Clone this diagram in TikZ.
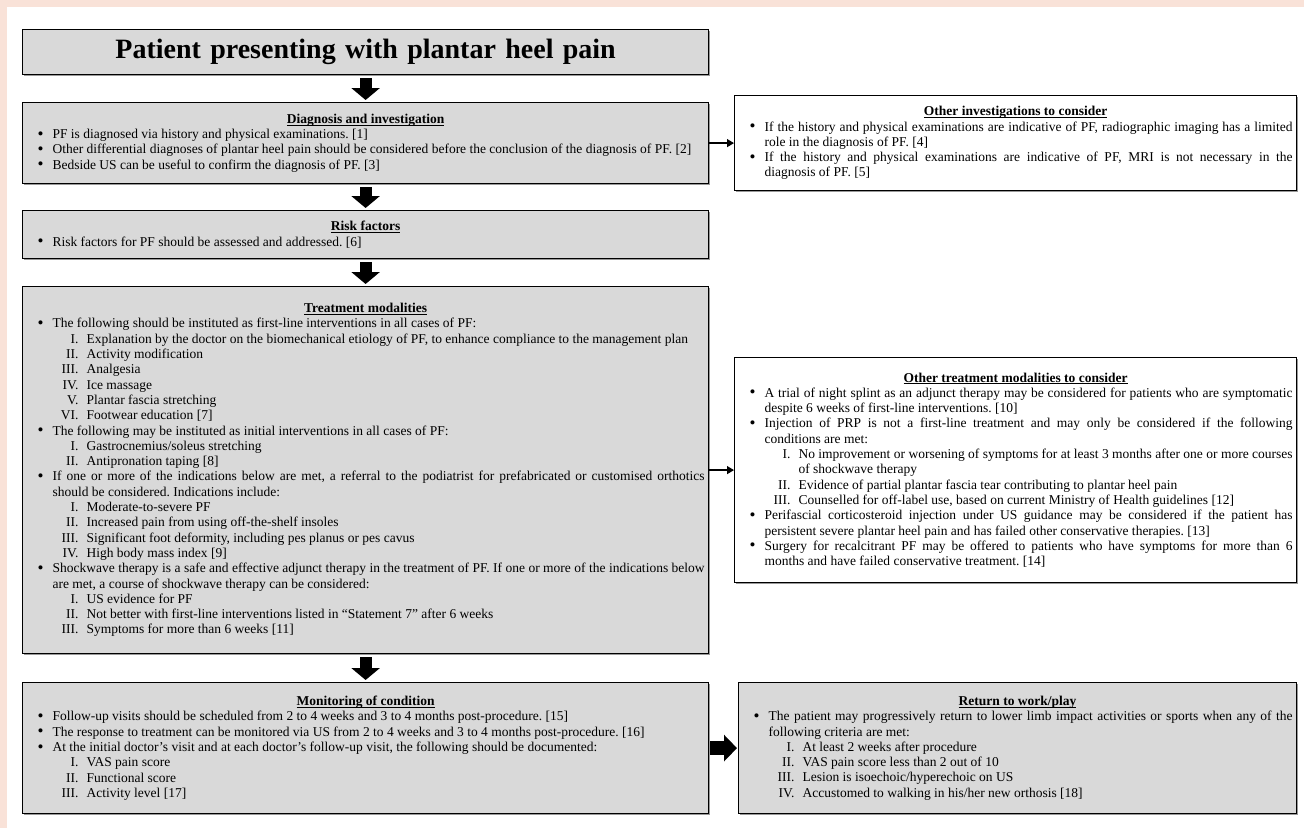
\documentclass[tikz,border=0pt]{standalone}
\usepackage{fontspec}
\setmainfont{Liberation Serif}
\usetikzlibrary{arrows.meta,shadows}

\definecolor{pinkbg}{RGB}{249,226,216}
\definecolor{boxgray}{RGB}{217,217,217}

\tolerance=10000
\hyphenpenalty=10000

% header, bullet and roman item inside the boxes
\newcommand{\boxhead}[1]{\setbox0=\hbox{\bfseries #1}\centerline{\rlap{\rule[-2pt]{\wd0}{0.7pt}}\box0}}
\newcommand{\bul}{\par\hangindent=26pt\hangafter=1\noindent\makebox[26pt][l]{\hspace{11pt}\raisebox{-0.6pt}{\fontsize{17}{15}\selectfont\textbullet}}}
\newcommand{\rom}[1]{\par\hangindent=60pt\hangafter=1\noindent\makebox[52pt][r]{#1.}\hspace{8pt}\ignorespaces}

\begin{document}
\begin{tikzpicture}[x=1pt, y=-1pt,
	box/.style={draw=black, line width=1.2pt, fill=boxgray, anchor=north west,
		inner xsep=4pt, inner ysep=0pt, align=justify,
		font=\fontsize{13.5}{15.3}\selectfont\frenchspacing,
		drop shadow={shadow xshift=1.6pt, shadow yshift=-1.6pt, fill=gray!80, opacity=1}},
	sidebox/.style={box, fill=white},
	downarrow/.style={line width=12pt, -{Triangle[length=12pt,width=28pt]}, shorten <=3pt, shorten >=2pt},
	rightarrow/.style={line width=14pt, -{Triangle[length=13pt,width=26pt]}, shorten <=1pt, shorten >=1pt},
	thinarrow/.style={line width=1.3pt, -{Triangle[length=7pt,width=8pt]}}]

	% page
	\useasboundingbox (0,0) rectangle (1304,828);
	\fill[pinkbg] (0,0) rectangle (1304,828);
	\fill[white] (7,7) rectangle (1304,828);

	% main column
	\node[box, minimum width=686pt, minimum height=45pt, text width=678pt, align=center,
		font=\fontsize{28}{30}\selectfont\bfseries] (title) at (22,29)
		{Patient presenting with plantar heel pain};

	\node[box, minimum width=686pt, minimum height=81pt, text width=678pt] (diag) at (22,102) {%
		\boxhead{Diagnosis and investigation}
		\bul PF is diagnosed via history and physical examinations. [1]
		\bul Other differential diagnoses of plantar heel pain should be considered before the conclusion of the diagnosis of PF. [2]
		\bul Bedside US can be useful to confirm the diagnosis of PF. [3]\par};

	\node[box, minimum width=686pt, minimum height=48pt, text width=678pt] (risk) at (22,210) {%
		\boxhead{Risk factors}
		\bul Risk factors for PF should be assessed and addressed. [6]\par};

	\node[box, minimum width=686pt, minimum height=367pt, text width=678pt] (treat) at (22,286) {%
		\boxhead{Treatment modalities}
		\bul The following should be instituted as first-line interventions in all cases of PF:
		\rom{I} Explanation by the doctor on the biomechanical etiology of PF, to enhance compliance to the management plan
		\rom{II} Activity modification
		\rom{III} Analgesia
		\rom{IV} Ice massage
		\rom{V} Plantar fascia stretching
		\rom{VI} Footwear education [7]
		\bul The following may be instituted as initial interventions in all cases of PF:
		\rom{I} Gastrocnemius/soleus stretching
		\rom{II} Antipronation taping [8]
		\bul If one or more of the indications below are met, a referral to the podiatrist for prefabricated or customised orthotics \linebreak should be considered. Indications include:
		\rom{I} Moderate-to-severe PF
		\rom{II} Increased pain from using off-the-shelf insoles
		\rom{III} Significant foot deformity, including pes planus or pes cavus
		\rom{IV} High body mass index [9]
		\bul Shockwave therapy is a safe and effective adjunct therapy in the treatment of PF. If one or more of the indications below \linebreak are met, a course of shockwave therapy can be considered:
		\rom{I} US evidence for PF
		\rom{II} Not better with first-line interventions listed in “Statement 7” after 6 weeks
		\rom{III} Symptoms for more than 6 weeks [11]\par};

	\node[box, minimum width=686pt, minimum height=131pt, text width=678pt] (mon) at (22,682) {%
		\boxhead{Monitoring of condition}
		\bul Follow-up visits should be scheduled from 2 to 4 weeks and 3 to 4 months post-procedure. [15]
		\bul The response to treatment can be monitored via US from 2 to 4 weeks and 3 to 4 months post-procedure. [16]
		\bul At the initial doctor’s visit and at each doctor’s follow-up visit, the following should be documented:
		\rom{I} VAS pain score
		\rom{II} Functional score
		\rom{III} Activity level [17]\par};

	% side column
	\node[sidebox, minimum width=562pt, minimum height=95pt, text width=554pt] (inv) at (734,95) {%
		\boxhead{Other investigations to consider}
		\bul If the history and physical examinations are indicative of PF, radiographic imaging has a limited \linebreak role in the diagnosis of PF. [4]
		\bul If the history and physical examinations are indicative of PF, MRI is not necessary in the \linebreak diagnosis of PF. [5]\par};

	\node[sidebox, minimum width=562pt, minimum height=225pt, text width=554pt] (other) at (734,357) {%
		\boxhead{Other treatment modalities to consider}
		\bul A trial of night splint as an adjunct therapy may be considered for patients who are symptomatic \linebreak despite 6 weeks of first-line interventions. [10]
		\bul Injection of PRP is not a first-line treatment and may only be considered if the following \linebreak conditions are met:
		\rom{I} No improvement or worsening of symptoms for at least 3 months after one or more courses \linebreak of shockwave therapy
		\rom{II} Evidence of partial plantar fascia tear contributing to plantar heel pain
		\rom{III} Counselled for off-label use, based on current Ministry of Health guidelines [12]
		\bul Perifascial corticosteroid injection under US guidance may be considered if the patient has \linebreak persistent severe plantar heel pain and has failed other conservative therapies. [13]
		\bul Surgery for recalcitrant PF may be offered to patients who have symptoms for more than 6 \linebreak months and have failed conservative treatment. [14]\par};

	\node[box, minimum width=558pt, minimum height=131pt, text width=550pt] (ret) at (738,682) {%
		\boxhead{Return to work/play}
		\bul The patient may progressively return to lower limb impact activities or sports when any of the \linebreak following criteria are met:
		\rom{I} At least 2 weeks after procedure
		\rom{II} VAS pain score less than 2 out of 10
		\rom{III} Lesion is isoechoic/hyperechoic on US
		\rom{IV} Accustomed to walking in his/her new orthosis [18]\par};

	% arrows
	\draw[downarrow] (title) -- (diag);
	\draw[downarrow] (diag) -- (risk);
	\draw[downarrow] (risk) -- (treat);
	\draw[downarrow] (treat) -- (mon);
	\draw[rightarrow] (mon) -- (ret);
	\draw[thinarrow] (diag) -- (inv);
	\draw[thinarrow] (treat) -- (other);

\end{tikzpicture}
\end{document}
